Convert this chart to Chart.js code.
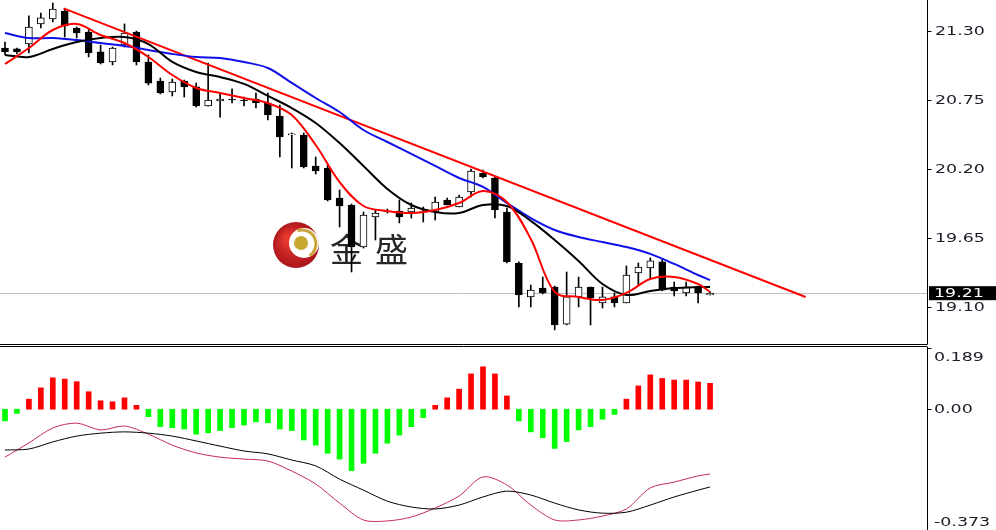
<!DOCTYPE html>
<html>
<head>
<meta charset="utf-8">
<title>K线 MACD</title>
<script src="https://cdn.jsdelivr.net/npm/chart.js@4.4.1/dist/chart.umd.min.js"></script>
<style>
  body { margin: 0; background: #fff; }
  #wrap { position: relative; width: 996px; height: 530px; overflow: hidden; }
  #priceChart { position: absolute; left: 0; top: 0; }
  #macdChart { position: absolute; left: 0; top: 347px; }
</style>
</head>
<body>
<div id="wrap">
  <canvas id="priceChart" width="996" height="347"></canvas>
  <canvas id="macdChart" width="996" height="183"></canvas>
</div>
<script>
// K线数据 (读自图片)
var open = [21.164,21.157,21.196,21.356,21.396,21.459,21.324,21.292,21.133,21.053,
  21.188,21.292,21.053,20.901,20.814,20.901,20.854,20.702,20.742,20.758,
  20.750,20.758,20.726,20.622,20.471,20.471,20.224,20.208,19.969,19.913,
  19.578,19.817,19.857,19.865,19.857,19.857,19.857,19.953,19.897,20.017,
  20.168,20.128,19.857,19.451,19.180,19.251,19.259,18.964,19.180,19.259,
  19.132,19.180,19.132,19.371,19.411,19.459,19.259,19.212,19.259,19.196];
var high = [21.212,21.164,21.420,21.443,21.523,21.475,21.332,21.308,21.188,21.172,
  21.356,21.300,21.109,20.925,20.917,20.909,20.885,21.045,20.806,20.838,
  20.774,20.806,20.806,20.710,20.487,20.487,20.296,20.232,20.033,19.921,
  19.857,19.873,19.881,19.953,19.929,19.897,19.977,19.969,19.993,20.200,
  20.192,20.136,19.889,19.459,19.275,19.339,19.267,19.379,19.339,19.259,
  19.259,19.212,19.427,19.451,19.491,19.483,19.299,19.299,19.267,19.220];
var low = [21.109,21.117,21.125,21.324,21.372,21.252,21.244,21.093,21.037,21.029,
  21.172,21.029,20.870,20.798,20.782,20.774,20.694,20.700,20.614,20.726,
  20.702,20.686,20.591,20.296,20.208,20.208,20.160,19.945,19.738,19.379,
  19.570,19.634,19.849,19.770,19.809,19.778,19.793,19.913,19.897,19.977,
  20.128,19.809,19.451,19.100,19.100,19.204,18.917,18.957,19.100,18.957,
  19.092,19.100,19.132,19.275,19.323,19.228,19.188,19.188,19.132,19.196];
var close = [21.133,21.133,21.332,21.404,21.475,21.340,21.284,21.125,21.045,21.164,
  21.284,21.053,20.885,20.806,20.893,20.854,20.702,20.750,20.758,20.750,
  20.744,20.726,20.630,20.455,20.480,20.216,20.184,19.953,19.905,19.578,
  19.833,19.849,19.862,19.817,19.889,19.865,19.937,19.913,19.977,20.184,
  20.136,19.873,19.459,19.196,19.235,19.212,18.957,19.180,19.259,19.172,
  19.180,19.132,19.355,19.419,19.467,19.235,19.228,19.259,19.212,19.210];

// 均线 (每两根K线读一个点)
var maIdx = [0,2,4,6,8,10,12,14,16,18,20,22,24,26,28,30,32,34,36,38,40,42,44,46,48,50,52,54,56,58,59];
var maRed = [21.037,21.164,21.308,21.356,21.268,21.204,21.093,20.949,20.846,20.806,20.766,20.726,20.630,20.391,20.096,
  19.905,19.865,19.849,19.873,19.929,20.025,19.937,19.642,19.220,19.180,19.156,19.212,19.323,19.339,19.283,19.220];
var maBlack = [21.109,21.093,21.157,21.212,21.244,21.252,21.196,21.053,20.973,20.933,20.878,20.782,20.686,20.567,20.407,
  20.224,20.041,19.913,19.857,19.849,19.913,19.905,19.786,19.634,19.467,19.283,19.196,19.228,19.251,19.259,19.259];
var maBlue = [21.284,21.244,21.244,21.228,21.204,21.180,21.149,21.117,21.093,21.085,21.053,21.005,20.886,20.766,20.654,
  20.511,20.415,20.320,20.224,20.128,20.057,19.929,19.809,19.714,19.658,19.618,19.578,19.523,19.443,19.355,19.315];

// 压力线
var trendIdx = [4.9, 67];
var trendVal = [21.48, 19.18];

// 价格轴刻度
var priceTicks = [21.30, 20.75, 20.20, 19.65, 19.10];
var lastPrice = 19.21;

// MACD
var macdHist = [-0.036,-0.013,0.031,0.066,0.097,0.093,0.085,0.054,0.026,0.023,
  0.035,0.012,-0.023,-0.054,-0.057,-0.061,-0.077,-0.073,-0.066,-0.057,
  -0.049,-0.039,-0.042,-0.061,-0.066,-0.095,-0.111,-0.136,-0.154,-0.190,
  -0.167,-0.136,-0.105,-0.080,-0.054,-0.026,0.012,0.035,0.062,0.109,
  0.131,0.109,0.041,-0.036,-0.070,-0.088,-0.121,-0.100,-0.064,-0.054,
  -0.031,-0.016,0.031,0.072,0.106,0.095,0.090,0.090,0.084,0.080];
var macdBlack = [-0.126,-0.123,-0.101,-0.083,-0.074,-0.070,-0.074,-0.083,-0.098,-0.114,-0.129,-0.138,-0.157,-0.175,-0.216,
  -0.250,-0.284,-0.302,-0.308,-0.296,-0.271,-0.253,-0.265,-0.290,-0.311,-0.321,-0.318,-0.296,-0.271,-0.250,-0.240];
var macdRed = [-0.148,-0.104,-0.058,-0.043,-0.064,-0.052,-0.077,-0.111,-0.135,-0.148,-0.154,-0.160,-0.191,-0.231,-0.290,
  -0.342,-0.345,-0.333,-0.305,-0.268,-0.209,-0.234,-0.296,-0.342,-0.342,-0.330,-0.308,-0.243,-0.225,-0.206,-0.200];
var macdTicks = [0.189, 0, -0.373];
var macdTickText = ['0.189', '0.00', '-0.373'];

var candleIdx = open.map(function (v, i) { return i; });
function pts(xs, ys) { return xs.map(function (x, k) { return { x: x, y: ys[k] }; }); }

var AXIS_X = 927.5;
var LABEL_FONT = '12px "DejaVu Sans"';

//文字横向拉伸 (原图是横向放大的)
function stretchedText(ctx, text, x, y, baseline, color) {
  ctx.save();
  ctx.translate(x, y);
  ctx.scale(1.45, 1);
  ctx.font = LABEL_FONT;
  ctx.fillStyle = color;
  ctx.textBaseline = baseline;
  ctx.textAlign = 'left';
  ctx.fillText(text, 0, 0);
  ctx.restore();
}

function drawLogo(ctx) {
  ctx.save();
  var g = ctx.createRadialGradient(288, 238, 3, 296, 245, 24);
  g.addColorStop(0, '#e8392e');
  g.addColorStop(1, '#a8121a');
  ctx.fillStyle = g;
  ctx.beginPath(); ctx.arc(296, 245, 23, 0, Math.PI * 2); ctx.fill();
  ctx.fillStyle = '#fff';
  ctx.beginPath(); ctx.arc(304, 243, 15, 0, Math.PI * 2); ctx.fill();
  ctx.strokeStyle = '#c9a63a'; ctx.lineWidth = 3;
  ctx.beginPath(); ctx.arc(302, 244, 14, -1.9, 1.0); ctx.stroke();
  ctx.fillStyle = '#c8aa30';
  ctx.beginPath(); ctx.arc(301, 243, 7, 0, Math.PI * 2); ctx.fill();
  ctx.fillStyle = '#262626';
  ctx.font = '33px "Noto Sans CJK SC"';
  ctx.textBaseline = 'alphabetic';
  ctx.fillText('金', 330, 262);
  ctx.fillText('盛', 375, 262);
  ctx.restore();
}

var priceAxisPlugin = {
  id: 'priceAxis',
  beforeDatasetsDraw: function (chart) {
    var ctx = chart.ctx, area = chart.chartArea;
    drawLogo(ctx);
    var py = Math.round(chart.scales.y.getPixelForValue(lastPrice)) + 0.5;
    ctx.save();
    ctx.strokeStyle = '#c0c0c0'; ctx.lineWidth = 1;
    ctx.beginPath(); ctx.moveTo(area.left, py); ctx.lineTo(AXIS_X, py); ctx.stroke();
    ctx.restore();
  },
  afterDraw: function (chart) {
    var ctx = chart.ctx, yScale = chart.scales.y;
    ctx.save();
    ctx.strokeStyle = '#000'; ctx.lineWidth = 1;
    ctx.beginPath(); ctx.moveTo(AXIS_X, 0); ctx.lineTo(AXIS_X, 344.5); ctx.stroke();
    // 分隔双线
    ctx.beginPath(); ctx.moveTo(0, 344.5); ctx.lineTo(AXIS_X, 344.5); ctx.stroke();
    ctx.beginPath(); ctx.moveTo(0, 346.5); ctx.lineTo(AXIS_X, 346.5); ctx.stroke();
    priceTicks.forEach(function (v) {
      var ty = Math.round(yScale.getPixelForValue(v)) + 0.5;
      ctx.beginPath(); ctx.moveTo(AXIS_X, ty); ctx.lineTo(AXIS_X + 4, ty); ctx.stroke();
      stretchedText(ctx, v.toFixed(2), 935, ty, 'middle', '#1c1c28');
    });
    var by = yScale.getPixelForValue(lastPrice);
    ctx.fillStyle = '#000';
    ctx.fillRect(929, by - 7, 67, 14);
    stretchedText(ctx, lastPrice.toFixed(2), 934, by + 0.5, 'middle', '#fff');
    ctx.restore();
  }
};

var macdAxisPlugin = {
  id: 'macdAxis',
  afterDraw: function (chart) {
    var ctx = chart.ctx, yScale = chart.scales.y;
    ctx.save();
    ctx.strokeStyle = '#000'; ctx.lineWidth = 1;
    ctx.beginPath(); ctx.moveTo(AXIS_X, 0); ctx.lineTo(AXIS_X, 183); ctx.stroke();
    macdTicks.forEach(function (v, k) {
      var ty = Math.round(yScale.getPixelForValue(v)) + 0.5;
      var base = k === 0 ? 'top' : (k === macdTicks.length - 1 ? 'bottom' : 'middle');
      var tyText = k === 0 ? ty + 3 : (k === macdTicks.length - 1 ? ty - 2 : ty);
      ctx.beginPath(); ctx.moveTo(AXIS_X, ty); ctx.lineTo(AXIS_X + 4, ty); ctx.stroke();
      stretchedText(ctx, macdTickText[k], 934, tyText, base, '#1c1c28');
    });
    ctx.restore();
  }
};

new Chart(document.getElementById('priceChart'), {
  data: {
    datasets: [
      { type: 'line', label: 'MA红', data: pts(maIdx, maRed), borderColor: '#ff0000', borderWidth: 2,
        pointRadius: 0, tension: 0.35, order: 0 },
      { type: 'line', label: 'MA黑', data: pts(maIdx, maBlack), borderColor: '#000000', borderWidth: 2,
        pointRadius: 0, tension: 0.35, order: 0 },
      { type: 'line', label: 'MA蓝', data: pts(maIdx, maBlue), borderColor: '#1010e8', borderWidth: 2,
        pointRadius: 0, tension: 0.35, order: 0 },
      { type: 'line', label: '压力线', data: pts(trendIdx, trendVal), borderColor: '#ff0000', borderWidth: 2,
        pointRadius: 0, tension: 0, order: 0 },
      { type: 'bar', label: '实体', grouped: false, order: 1,
        data: candleIdx.map(function (i) { return { x: i, y: [open[i], close[i]] }; }),
        backgroundColor: candleIdx.map(function (i) { return close[i] >= open[i] ? '#ffffff' : '#000000'; }),
        borderColor: '#000000', borderWidth: 1, borderSkipped: false, barThickness: 7 },
      { type: 'bar', label: '影线', grouped: false, order: 2,
        data: candleIdx.map(function (i) { return { x: i, y: [low[i], high[i]] }; }),
        backgroundColor: '#000000', borderWidth: 0, barThickness: 1 }
    ]
  },
  options: {
    responsive: false,
    animation: false,
    events: [],
    layout: { padding: { left: 0, right: 69, top: 0, bottom: 3 } },
    plugins: { legend: { display: false }, tooltip: { enabled: false } },
    scales: {
      x: { type: 'linear', min: -0.418, max: 77.155, offset: false, display: false },
      y: { type: 'linear', min: 18.805, max: 21.547, display: false }
    }
  },
  plugins: [priceAxisPlugin]
});

new Chart(document.getElementById('macdChart'), {
  data: {
    datasets: [
      { type: 'line', label: 'MACD', data: pts(maIdx, macdBlack), borderColor: '#000000', borderWidth: 1,
        pointRadius: 0, tension: 0.3, order: 0 },
      { type: 'line', label: 'Signal', data: pts(maIdx, macdRed), borderColor: '#c42a5c', borderWidth: 1,
        pointRadius: 0, tension: 0.3, order: 0 },
      { type: 'bar', label: '柱', grouped: false, order: 1,
        data: candleIdx.map(function (i) { return { x: i, y: macdHist[i] }; }),
        backgroundColor: macdHist.map(function (v) { return v >= 0 ? '#ff0000' : '#00ff00'; }),
        borderWidth: 0, barThickness: 5 }
    ]
  },
  options: {
    responsive: false,
    animation: false,
    events: [],
    layout: { padding: { left: 0, right: 69, top: 1, bottom: 0 } },
    plugins: { legend: { display: false }, tooltip: { enabled: false } },
    scales: {
      x: { type: 'linear', min: -0.418, max: 77.155, offset: false, display: false },
      y: { type: 'linear', min: -0.373, max: 0.189, display: false }
    }
  },
  plugins: [macdAxisPlugin]
});
</script>
</body>
</html>
